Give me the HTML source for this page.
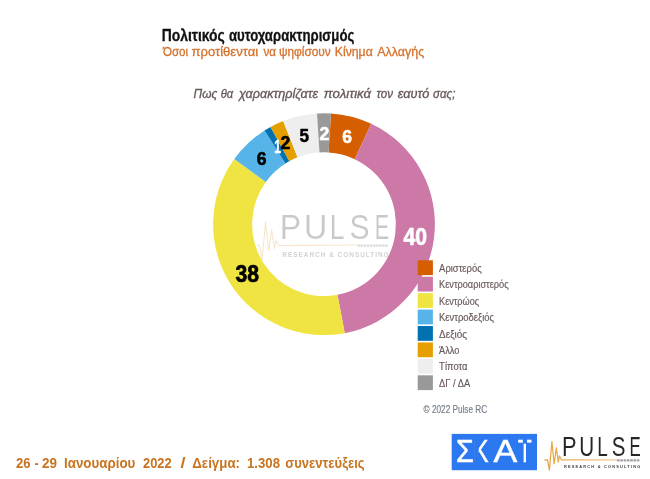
<!DOCTYPE html>
<html lang="el">
<head>
<meta charset="utf-8">
<title>Πολιτικός αυτοχαρακτηρισμός</title>
<style>
html,body{margin:0;padding:0;background:#fff;}
body{width:650px;height:479px;overflow:hidden;}
svg{display:block;font-family:"Liberation Sans",sans-serif;}
#all{filter:blur(0.45px);}
.leg text{font-size:11.2px;fill:#6b5c5c;stroke:#6b5c5c;stroke-width:0.2px;}
</style>
</head>
<body>
<svg width="650" height="479" viewBox="0 0 650 479">
<defs><linearGradient id="og" gradientUnits="userSpaceOnUse" x1="544" y1="0" x2="617" y2="0"><stop offset="0" stop-color="#e6a03c"/><stop offset="0.25" stop-color="#e8aa50"/><stop offset="1" stop-color="#f0cc98"/></linearGradient></defs>
<rect width="650" height="479" fill="#fff"/>
<g id="all">
<g class="head">
<text transform="matrix(0.8583 0 0 1 161.67 40.80)" font-size="16.2" font-weight="bold" fill="#111" stroke="#111" stroke-width="0.3">Πολιτικός</text>
<text transform="matrix(0.8142 0 0 1 228.88 40.80)" font-size="16.2" font-weight="bold" fill="#111" stroke="#111" stroke-width="0.3">αυτοχαρακτηρισμός</text>
<text transform="matrix(0.8776 0 0 1 162.99 55.60)" font-size="13.2" fill="#d4712c" stroke="#d4712c" stroke-width="0.3">Όσοι</text>
<text transform="matrix(0.9921 0 0 1 191.49 55.60)" font-size="13.2" fill="#d4712c" stroke="#d4712c" stroke-width="0.3">προτίθενται</text>
<text transform="matrix(0.8808 0 0 1 263.40 55.60)" font-size="13.2" fill="#d4712c" stroke="#d4712c" stroke-width="0.3">να</text>
<text transform="matrix(0.9025 0 0 1 278.91 55.60)" font-size="13.2" fill="#d4712c" stroke="#d4712c" stroke-width="0.3">ψηφίσουν</text>
<text transform="matrix(0.9277 0 0 1 334.80 55.60)" font-size="13.2" fill="#d4712c" stroke="#d4712c" stroke-width="0.3">Κίνημα</text>
<text transform="matrix(0.9433 0 0 1 377.28 55.60)" font-size="13.2" fill="#d4712c" stroke="#d4712c" stroke-width="0.3">Αλλαγής</text>
<text transform="matrix(0.8759 0 0 1 193.53 97.60)" font-size="13.6" font-style="italic" fill="#675858" stroke="#675858" stroke-width="0.35">Πως</text>
<text transform="matrix(0.8253 0 0 1 220.65 97.60)" font-size="13.6" font-style="italic" fill="#675858" stroke="#675858" stroke-width="0.35">θα</text>
<text transform="matrix(0.9284 0 0 1 238.92 97.60)" font-size="13.6" font-style="italic" fill="#675858" stroke="#675858" stroke-width="0.35">χαρακτηρίζατε</text>
<text transform="matrix(0.9740 0 0 1 323.71 97.60)" font-size="13.6" font-style="italic" fill="#675858" stroke="#675858" stroke-width="0.35">πολιτικά</text>
<text transform="matrix(0.8481 0 0 1 376.58 97.60)" font-size="13.6" font-style="italic" fill="#675858" stroke="#675858" stroke-width="0.35">τον</text>
<text transform="matrix(0.9367 0 0 1 397.69 97.60)" font-size="13.6" font-style="italic" fill="#675858" stroke="#675858" stroke-width="0.35">εαυτό</text>
<text transform="matrix(0.8490 0 0 1 433.02 97.60)" font-size="13.6" font-style="italic" fill="#675858" stroke="#675858" stroke-width="0.35">σας;</text>
</g>
<g class="donut">
<path d="M330.96 113.52A110.9 110.9 0 0 1 371.22 123.85L354.61 159.14A71.9 71.9 0 0 0 328.51 152.44Z" fill="#D55E00"/>
<path d="M371.22 123.85A110.9 110.9 0 0 1 344.78 333.14L337.47 294.83A71.9 71.9 0 0 0 354.61 159.14Z" fill="#CC79A7"/>
<path d="M344.78 333.14A110.9 110.9 0 0 1 234.28 159.01L265.83 181.94A71.9 71.9 0 0 0 337.47 294.83Z" fill="#F0E442"/>
<path d="M234.28 159.01A110.9 110.9 0 0 1 264.58 130.56L285.47 163.49A71.9 71.9 0 0 0 265.83 181.94Z" fill="#56B4E9"/>
<path d="M264.58 130.56A110.9 110.9 0 0 1 270.57 127.02L289.36 161.19A71.9 71.9 0 0 0 285.47 163.49Z" fill="#0072B2"/>
<path d="M270.57 127.02A110.9 110.9 0 0 1 283.17 121.09L297.53 157.35A71.9 71.9 0 0 0 289.36 161.19Z" fill="#E69F00"/>
<path d="M283.17 121.09A110.9 110.9 0 0 1 317.04 113.52L319.49 152.44A71.9 71.9 0 0 0 297.53 157.35Z" fill="#EEEEEE"/>
<path d="M317.04 113.52A110.9 110.9 0 0 1 330.96 113.52L328.51 152.44A71.9 71.9 0 0 0 319.49 152.44Z" fill="#999999"/>
</g>
<g class="wm">
<polyline fill="none" stroke="#f6e6cf" stroke-width="1.10" stroke-linejoin="round" points="257.0,245.0 259.5,245.6 262.1,259.1 265.6,221.9 268.6,250.8 271.7,230.1 274.5,248.7 276.0,240.4 278.8,245.6 357.5,245.0"/>
<line x1="357.5" y1="245.6" x2="388.2" y2="245.6" stroke="#dadada" stroke-width="2.09" stroke-dasharray="2.4 0.7"/>
<text transform="matrix(0.3213 0 0 0.3547 279.66 239.40)" font-size="100" fill="#c9c9c9" stroke="#fff" stroke-width="0.5">P</text>
<text transform="matrix(0.3223 0 0 0.3547 304.01 239.40)" font-size="100" fill="#c9c9c9" stroke="#fff" stroke-width="0.5">U</text>
<text transform="matrix(0.2654 0 0 0.3547 329.72 239.40)" font-size="100" fill="#c9c9c9" stroke="#fff" stroke-width="0.5">L</text>
<text transform="matrix(0.3022 0 0 0.3547 349.43 239.40)" font-size="100" fill="#c9c9c9" stroke="#fff" stroke-width="0.5">S</text>
<text transform="matrix(0.2159 0 0 0.3547 374.73 239.40)" font-size="100" fill="#c9c9c9" stroke="#fff" stroke-width="0.5">E</text>
<text x="282.3" y="257.4" font-size="6.40" font-weight="bold" fill="#d2d2d2" textLength="106.3" lengthAdjust="spacing">RESEARCH &amp; CONSULTING</text>
</g>
<g class="lab">
<text transform="matrix(0.1758 0 0 0.1849 342.14 142.87)" font-size="100" font-weight="bold" fill="#fff" stroke="#fff" stroke-width="3">6</text>
<text transform="matrix(0.2121 0 0 0.2389 403.46 244.76)" font-size="100" font-weight="bold" fill="#fff" stroke="#fff" stroke-width="3">40</text>
<text transform="matrix(0.2116 0 0 0.2389 235.44 282.27)" font-size="100" font-weight="bold" fill="#000" stroke="#000" stroke-width="3">38</text>
<text transform="matrix(0.1758 0 0 0.1849 256.84 164.77)" font-size="100" font-weight="bold" fill="#000" stroke="#000" stroke-width="3">6</text>
<text transform="matrix(0.1203 0 0 0.1849 274.22 152.73)" font-size="100" font-weight="bold" fill="#fff" stroke="#fff" stroke-width="3">1</text>
<text transform="matrix(0.1766 0 0 0.1849 280.52 148.70)" font-size="100" font-weight="bold" fill="#000" stroke="#000" stroke-width="3">2</text>
<text transform="matrix(0.1708 0 0 0.1849 299.59 142.20)" font-size="100" font-weight="bold" fill="#000" stroke="#000" stroke-width="3">5</text>
<text transform="matrix(0.1766 0 0 0.1849 319.44 140.00)" font-size="100" font-weight="bold" fill="#fff" stroke="#fff" stroke-width="3">2</text>
</g>
<g class="leg">
<rect x="417.7" y="260.30" width="15.2" height="14.8" fill="#D55E00"/>
<text x="439.1" y="271.80" textLength="42.6" lengthAdjust="spacingAndGlyphs">Αριστερός</text>
<rect x="417.7" y="276.73" width="15.2" height="14.8" fill="#CC79A7"/>
<text x="439.1" y="288.23" textLength="69.5" lengthAdjust="spacingAndGlyphs">Κεντροαριστερός</text>
<rect x="417.7" y="293.16" width="15.2" height="14.8" fill="#F0E442"/>
<text x="439.1" y="304.66" textLength="40" lengthAdjust="spacingAndGlyphs">Κεντρώος</text>
<rect x="417.7" y="309.59" width="15.2" height="14.8" fill="#56B4E9"/>
<text x="439.1" y="321.09" textLength="55" lengthAdjust="spacingAndGlyphs">Κεντροδεξιός</text>
<rect x="417.7" y="326.02" width="15.2" height="14.8" fill="#0072B2"/>
<text x="439.1" y="337.52" textLength="28" lengthAdjust="spacingAndGlyphs">Δεξιός</text>
<rect x="417.7" y="342.45" width="15.2" height="14.8" fill="#E69F00"/>
<text x="439.1" y="353.95" textLength="20.3" lengthAdjust="spacingAndGlyphs">Άλλο</text>
<rect x="417.7" y="358.88" width="15.2" height="14.8" fill="#EEEEEE"/>
<text x="439.1" y="370.38" textLength="28.5" lengthAdjust="spacingAndGlyphs">Τίποτα</text>
<rect x="417.7" y="375.31" width="15.2" height="14.8" fill="#999999"/>
<text x="439.1" y="386.81" textLength="31" lengthAdjust="spacingAndGlyphs">ΔΓ / ΔΑ</text>
</g>
<text x="423.6" y="412.9" font-size="10.6" fill="#77808c" stroke="#77808c" stroke-width="0.2" textLength="63.6" lengthAdjust="spacingAndGlyphs">© 2022 Pulse RC</text>
<g font-weight="bold" font-size="14.4" fill="#c87420">
<text x="16" y="468.3" textLength="14.6" lengthAdjust="spacingAndGlyphs">26</text>
<text x="34.6" y="468.3" textLength="4.2" lengthAdjust="spacingAndGlyphs">-</text>
<text x="42" y="468.3" textLength="15" lengthAdjust="spacingAndGlyphs">29</text>
<text x="64" y="468.3" textLength="71.4" lengthAdjust="spacingAndGlyphs">Ιανουαρίου</text>
<text x="143" y="468.3" textLength="28.7" lengthAdjust="spacingAndGlyphs">2022</text>
<text x="180.5" y="468.3" textLength="5" lengthAdjust="spacingAndGlyphs">/</text>
<text x="192.3" y="468.3" textLength="47.7" lengthAdjust="spacingAndGlyphs">Δείγμα:</text>
<text x="247" y="468.3" textLength="33" lengthAdjust="spacingAndGlyphs">1.308</text>
<text x="285.2" y="468.3" textLength="79.4" lengthAdjust="spacingAndGlyphs">συνεντεύξεις</text>
</g>
<g class="skai">
<rect x="451.7" y="433.9" width="85.3" height="36.3" fill="#2b78f0"/>
<text transform="matrix(0.2890 0 0 0.3183 456.08 462.10)" font-size="100" fill="#fff" stroke="#fff" stroke-width="1.6">Σ</text>
<text transform="matrix(0.2283 0 0 0.3183 473.33 462.10)" font-size="100" fill="#fff" stroke="#fff" stroke-width="1.6">Κ</text>
<rect x="474.5" y="439" width="4.2" height="25" fill="#2b78f0"/>
<text transform="matrix(0.3559 0 0 0.3183 493.53 462.10)" font-size="100" fill="#fff" stroke="#fff" stroke-width="1.6">Α</text>
<text transform="matrix(0.4559 0 0 0.2617 518.44 462.10)" font-size="100" fill="#fff" stroke="#fff" stroke-width="1.6">Ϊ</text>
<rect x="521.2" y="443.1" width="2.4" height="20" fill="#2b78f0"/>
<rect x="526" y="443.1" width="2.4" height="20" fill="#2b78f0"/>
</g>
<g class="pulse">
<polyline fill="none" stroke="url(#og)" stroke-width="1.20" stroke-linejoin="round" points="544.4,459.8 547.5,459.8 549.4,470.1 551.9,441.6 554.1,463.8 556.3,447.9 558.3,462.2 559.4,455.8 561.4,459.8 617.0,459.8"/>
<line x1="617" y1="460.40000000000003" x2="640" y2="460.40000000000003" stroke="#a0a0a0" stroke-width="2.28" stroke-dasharray="2.6 0.7"/>
<text transform="matrix(0.2180 0 0 0.2704 562.11 455.60)" font-size="100" fill="#262626" stroke="#fff" stroke-width="0">P</text>
<text transform="matrix(0.2060 0 0 0.2704 579.21 455.60)" font-size="100" fill="#262626" stroke="#fff" stroke-width="0">U</text>
<text transform="matrix(0.1882 0 0 0.2704 597.26 455.60)" font-size="100" fill="#262626" stroke="#fff" stroke-width="0">L</text>
<text transform="matrix(0.2050 0 0 0.2704 611.67 455.60)" font-size="100" fill="#262626" stroke="#fff" stroke-width="0">S</text>
<text transform="matrix(0.1679 0 0 0.2704 629.52 455.60)" font-size="100" fill="#262626" stroke="#fff" stroke-width="0">E</text>
<text x="563.9" y="468.4" font-size="3.92" font-weight="bold" fill="#3c3c3c" textLength="76.4" lengthAdjust="spacing">RESEARCH &amp; CONSULTING</text>
</g>
</g>
</svg>
</body>
</html>
